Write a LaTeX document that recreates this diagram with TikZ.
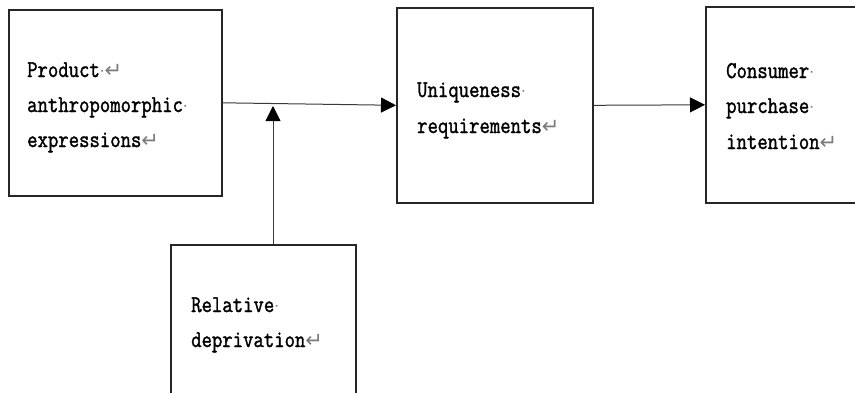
\documentclass[tikz,border=0pt]{standalone}
\usepackage{fontspec}
\usetikzlibrary{arrows.meta}
\newfontfamily\markfont{DejaVu Sans}
\newfontfamily\txtfont{Latin Modern Mono}[FakeStretch=0.84,FakeBold=1.5]
\definecolor{markgray}{HTML}{7A7A7A}
\definecolor{linegray}{HTML}{3A3A3A}
\newcommand\mkdot{{\markfont\fontsize{15}{15}\selectfont\textcolor{markgray}{\raisebox{1pt}{·}}}}
\newcommand\mkret{{\markfont\fontsize{21}{21}\selectfont\textcolor{markgray}{↵}}}
\begin{document}
\begin{tikzpicture}[x=1pt,y=-1pt,
  boxst/.style={draw=black!85,line width=1.6pt,anchor=north west,inner sep=0pt,rectangle},
  txt/.style={anchor=base west,inner sep=0pt,font=\txtfont\fontsize{24}{26}\selectfont},
  conn/.style={draw=linegray,line width=1pt,-{Triangle[length=15pt,width=15pt,color=black]}}]
\useasboundingbox (0,0) rectangle (855,392);
\clip (0,0) rectangle (855,392);
\fill[white] (0,0) rectangle (855,392);
% boxes
\node[boxst,minimum width=213pt,minimum height=186pt] (b1) at (8,9) {};
\node[boxst,minimum width=196pt,minimum height=195pt] (b2) at (396,7) {};
\node[boxst,minimum width=170pt,minimum height=196pt] (b3) at (705,6) {};
\node[boxst,minimum width=185pt,minimum height=170pt] (b4) at (170,244) {};
% texts
\node[txt] (t11) at (27,77) {Product\mkdot\mkret};
\node[txt] (t12) at (27,112) {anthropomorphic\mkdot};
\node[txt] (t13) at (27,147) {expressions\mkret};
\node[txt] (t21) at (417,97) {Uniqueness\mkdot};
\node[txt] (t22) at (417,133) {requirements\mkret};
\node[txt] (t31) at (726,78) {Consumer\mkdot};
\node[txt] (t32) at (726,113) {purchase\mkdot};
\node[txt] (t33) at (726,149) {intention\mkret};
\node[txt] (t41) at (191,312) {Relative\mkdot};
\node[txt] (t42) at (191,347) {deprivation\mkret};
% connectors
\draw[conn] (b1.east) -- (b2.west);
\draw[conn] (b2.east) -- (b3.west);
\coordinate (j) at (273,106);
\draw[conn] (j |- b4.north) -- (j);
\end{tikzpicture}
\end{document}
